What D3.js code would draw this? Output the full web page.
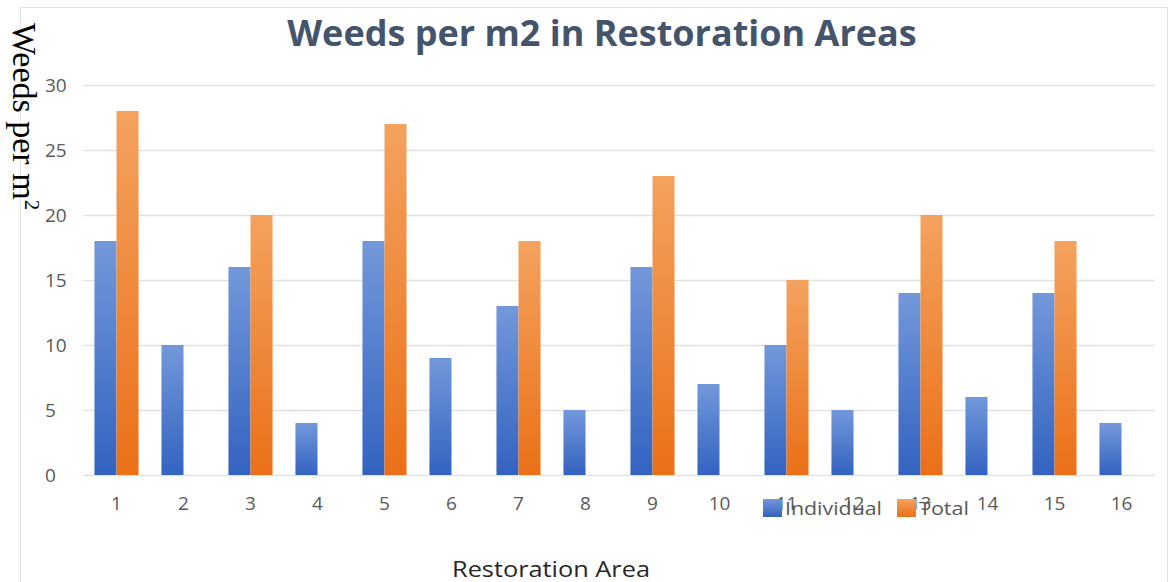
<!DOCTYPE html>
<html>
<head>
<meta charset="utf-8">
<script src="https://cdn.jsdelivr.net/npm/d3@7"></script>
<style>
  body { margin: 0; background: #fff; }
  svg { display: block; }
  .tick-lbl text { font-family: "Open Sans", sans-serif; font-size: 19px; fill: #595959; }
</style>
</head>
<body>
<div id="chart"></div>
<script>
// data
var areas = ["1","2","3","4","5","6","7","8","9","10","11","12","13","14","15","16"];
var individual = [18, 10, 16, 4, 18, 9, 13, 5, 16, 7, 10, 5, 14, 6, 14, 4];
var total = [28, null, 20, null, 27, null, 18, null, 23, null, 15, null, 20, null, 18, null];
var seriesNames = ["Individual", "Total"];
var yTicks = [0, 5, 10, 15, 20, 25, 30];

var W = 1169, H = 582;
var margin = {top: 85, right: 14, bottom: 107, left: 83};
var width = W - margin.left - margin.right,
    height = H - margin.top - margin.bottom;

var svg = d3.select("#chart").append("svg")
    .attr("width", W)
    .attr("height", H);

// gradients like the office style fill
var defs = svg.append("defs");
var grads = {
  "Individual": ["#7398da", "#3363c1"],
  "Total": ["#f4a25f", "#ea7018"]
};
seriesNames.forEach(function(s) {
  var g = defs.append("linearGradient")
      .attr("id", "grad-" + s)
      .attr("x1", 0).attr("y1", 0).attr("x2", 0).attr("y2", 1);
  g.append("stop").attr("offset", "0%").attr("stop-color", grads[s][0]);
  g.append("stop").attr("offset", "100%").attr("stop-color", grads[s][1]);
});

// faint chart border
svg.append("rect")
    .attr("x", 20.5).attr("y", 7.5)
    .attr("width", W - 22).attr("height", H)
    .attr("fill", "none")
    .attr("stroke", "#e3e3e3");

var g = svg.append("g")
    .attr("transform", "translate(" + margin.left + "," + margin.top + ")");

var x = d3.scaleBand()
    .domain(areas)
    .range([0, width]);

var xInner = d3.scaleBand()
    .domain(seriesNames)
    .range([0, x.bandwidth()])
    .paddingOuter(0.52);

var y = d3.scaleLinear()
    .domain([0, 30])
    .range([height, 0]);

// gridlines + y labels
var yAxis = d3.axisLeft(y)
    .tickValues(yTicks)
    .tickSize(-width);

var gy = g.append("g")
    .attr("class", "tick-lbl")
    .call(yAxis);
gy.select(".domain").remove();
gy.selectAll(".tick line").attr("stroke", "#e2e2e2").attr("stroke-width", 1.5);
gy.selectAll(".tick text")
    .attr("text-anchor", "start")
    .attr("x", -38);

// bars
var rows = areas.map(function(a, i) {
  return {area: a, values: [
    {key: "Individual", value: individual[i]},
    {key: "Total", value: total[i]}
  ]};
});

var groups = g.selectAll(".area")
    .data(rows)
  .enter().append("g")
    .attr("class", "area")
    .attr("transform", function(d) { return "translate(" + x(d.area) + ",0)"; });

groups.selectAll("rect")
    .data(function(d) { return d.values.filter(function(v) { return v.value != null; }); })
  .enter().append("rect")
    .attr("x", function(d) { return xInner(d.key); })
    .attr("y", function(d) { return y(d.value); })
    .attr("width", xInner.bandwidth())
    .attr("height", function(d) { return height - y(d.value); })
    .attr("fill", function(d) { return "url(#grad-" + d.key + ")"; });

// x labels
var xAxis = d3.axisBottom(x)
    .tickSize(0)
    .tickPadding(22);
var gx = g.append("g")
    .attr("class", "tick-lbl")
    .attr("transform", "translate(0," + height + ")")
    .call(xAxis);
gx.select(".domain").remove();

// title
svg.append("text")
    .attr("x", 602)
    .attr("y", 46)
    .attr("text-anchor", "middle")
    .style("font-family", "'Open Sans', sans-serif")
    .style("font-weight", "bold")
    .style("font-size", "36px")
    .style("fill", "#44546a")
    .text("Weeds per m2 in Restoration Areas");

// y title, serif, reading top to bottom
var yt = svg.append("text")
    .attr("transform", "translate(13,23) rotate(90)")
    .style("font-family", "'Liberation Serif', serif")
    .style("font-size", "34px")
    .style("fill", "#000");
yt.append("tspan").text("Weeds per m");
yt.append("tspan").attr("dy", "-12").style("font-size", "21px").text("2");

// x title
svg.append("text")
    .attr("x", 452)
    .attr("y", 577)
    .attr("textLength", 198)
    .attr("lengthAdjust", "spacingAndGlyphs")
    .style("font-family", "'Open Sans', sans-serif")
    .style("font-size", "21px")
    .style("fill", "#262626")
    .text("Restoration Area");

// legend, sits over the x labels like in the original
var legend = svg.append("g")
    .attr("transform", "translate(763,499)");
var legX = [0, 134];
var legLen = [97, 50];
seriesNames.forEach(function(s, i) {
  var item = legend.append("g").attr("transform", "translate(" + legX[i] + ",0)");
  item.append("rect")
      .attr("width", 19).attr("height", 18)
      .attr("fill", "url(#grad-" + s + ")");
  item.append("text")
      .attr("x", 22).attr("y", 16)
      .attr("textLength", legLen[i])
      .attr("lengthAdjust", "spacingAndGlyphs")
      .style("font-family", "'Open Sans', sans-serif")
      .style("font-size", "19px")
      .style("fill", "#595959")
      .text(s);
});
</script>
</body>
</html>
